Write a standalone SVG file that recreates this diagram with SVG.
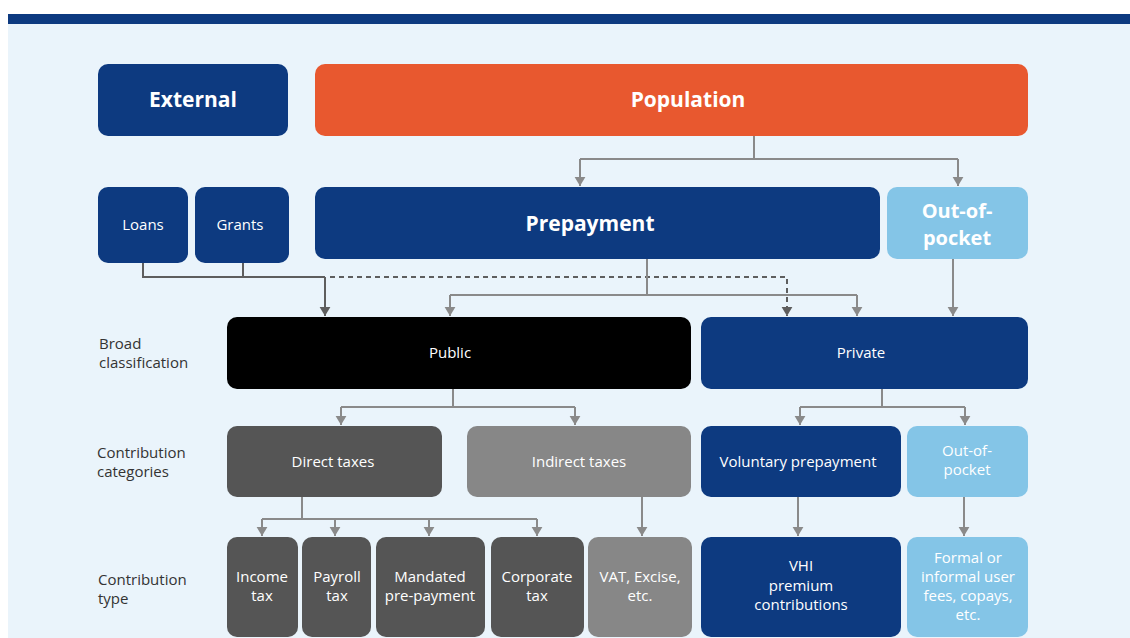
<svg xmlns="http://www.w3.org/2000/svg" width="1130" height="638" viewBox="0 0 1130 638">
<defs>
<style>
.t{font-family:"Open Sans","Noto Sans","Liberation Sans",sans-serif;fill:#fff;text-anchor:middle}
.b{font-weight:700;font-size:21px}
.r{font-size:15px}
.lbl{font-family:"Open Sans","Noto Sans","Liberation Sans",sans-serif;font-size:15px;fill:#333}
.c{fill:none;stroke:#8a8a8a;stroke-width:2}
.cd{fill:none;stroke:#5e5e5e;stroke-width:2}
.dash{stroke-dasharray:5 4}
.navy{fill:#0d3a80}
.sky{fill:#84c5e7}
.dg{fill:#555555}
.lg{fill:#878787}
</style>
<marker id="a" viewBox="0 0 10 12" refX="10" refY="6" markerWidth="9" markerHeight="12" markerUnits="userSpaceOnUse" orient="auto"><path d="M0,0 L10,6 L0,12 z" fill="#8a8a8a"/></marker>
<marker id="ad" viewBox="0 0 10 12" refX="10" refY="6" markerWidth="9" markerHeight="12" markerUnits="userSpaceOnUse" orient="auto"><path d="M0,0 L10,6 L0,12 z" fill="#5e5e5e"/></marker>
</defs>
<rect x="0" y="0" width="1130" height="638" fill="#ffffff"/>
<rect x="8" y="24" width="1122" height="614" fill="#eaf4fb"/>
<rect x="8" y="14" width="1122" height="10" fill="#0d3a80"/>

<g id="connectors">
<path class="c" d="M754,136 V159 M580,159 H958" />
<path class="c" d="M580,159 V186" marker-end="url(#a)"/>
<path class="c" d="M958,159 V186" marker-end="url(#a)"/>
<path class="cd" d="M143,263 V277 H325 M243,263 V277"/>
<path class="cd" d="M325,277 V316" marker-end="url(#ad)"/>
<path class="cd dash" d="M330,277 H787 V316" marker-end="url(#ad)"/>
<path class="c" d="M647,259 V295 M450,295 H857"/>
<path class="c" d="M450,295 V316" marker-end="url(#a)"/>
<path class="c" d="M857,295 V316" marker-end="url(#a)"/>
<path class="c" d="M953,259 V316" marker-end="url(#a)"/>
<path class="c" d="M453,389 V407 M341,407 H575"/>
<path class="c" d="M341,407 V425" marker-end="url(#a)"/>
<path class="c" d="M575,407 V425" marker-end="url(#a)"/>
<path class="c" d="M882,389 V407 M800,407 H965"/>
<path class="c" d="M800,407 V425" marker-end="url(#a)"/>
<path class="c" d="M965,407 V425" marker-end="url(#a)"/>
<path class="c" d="M302,497 V519 M262,519 H537"/>
<path class="c" d="M262,519 V536" marker-end="url(#a)"/>
<path class="c" d="M335,519 V536" marker-end="url(#a)"/>
<path class="c" d="M429,519 V536" marker-end="url(#a)"/>
<path class="c" d="M537,519 V536" marker-end="url(#a)"/>
<path class="c" d="M642,497 V536" marker-end="url(#a)"/>
<path class="c" d="M798,497 V536" marker-end="url(#a)"/>
<path class="c" d="M964,497 V536" marker-end="url(#a)"/>
</g>

<g id="labels">
<text class="lbl" x="99" y="349">Broad</text>
<text class="lbl" x="99" y="368">classification</text>
<text class="lbl" x="97" y="458">Contribution</text>
<text class="lbl" x="97" y="477">categories</text>
<text class="lbl" x="98" y="585">Contribution</text>
<text class="lbl" x="98" y="604">type</text>
</g>

<g id="external"><rect class="navy" x="98" y="64" width="190" height="72" rx="10"/><text class="t b" x="193" y="107">External</text></g>
<g id="population"><rect x="315" y="64" width="713" height="72" rx="10" fill="#e8582f"/><text class="t b" x="688" y="107">Population</text></g>
<g id="loans"><rect class="navy" x="98" y="187" width="90" height="76" rx="10"/><text class="t r" x="143" y="230">Loans</text></g>
<g id="grants"><rect class="navy" x="195" y="187" width="94" height="76" rx="10"/><text class="t r" x="240" y="230">Grants</text></g>
<g id="prepayment"><rect class="navy" x="315" y="187" width="565" height="72" rx="10"/><text class="t b" x="590" y="231">Prepayment</text></g>
<g id="oop"><rect class="sky" x="887" y="187" width="141" height="72" rx="10"/><text class="t b" x="957" y="218" style="font-size:20px">Out-of-</text><text class="t b" x="957" y="245" style="font-size:20px">pocket</text></g>

<g id="public"><rect x="227" y="317" width="464" height="72" rx="10" fill="#000"/><text class="t r" x="450" y="358">Public</text></g>
<g id="private"><rect class="navy" x="701" y="317" width="327" height="72" rx="10"/><text class="t r" x="861" y="358">Private</text></g>

<g id="direct"><rect class="dg" x="227" y="426" width="215" height="71" rx="10"/><text class="t r" x="333" y="467" fill="#e6e6e6">Direct taxes</text></g>
<g id="indirect"><rect class="lg" x="467" y="426" width="224" height="71" rx="10"/><text class="t r" x="579" y="467">Indirect taxes</text></g>
<g id="voluntary"><rect class="navy" x="701" y="426" width="200" height="71" rx="10"/><text class="t r" x="798" y="467">Voluntary prepayment</text></g>
<g id="oop2"><rect class="sky" x="907" y="426" width="121" height="71" rx="10"/><text class="t r" x="967" y="456">Out-of-</text><text class="t r" x="967" y="475">pocket</text></g>

<g id="income"><rect class="dg" x="227" y="537" width="71" height="100" rx="10"/><text class="t r" x="262" y="582">Income</text><text class="t r" x="262" y="601">tax</text></g>
<g id="payroll"><rect class="dg" x="302" y="537" width="69" height="100" rx="10"/><text class="t r" x="337" y="582">Payroll</text><text class="t r" x="337" y="601">tax</text></g>
<g id="mandated"><rect class="dg" x="376" y="537" width="109" height="100" rx="10"/><text class="t r" x="430" y="582">Mandated</text><text class="t r" x="430" y="601">pre-payment</text></g>
<g id="corporate"><rect class="dg" x="491" y="537" width="93" height="100" rx="10"/><text class="t r" x="537" y="582">Corporate</text><text class="t r" x="537" y="601">tax</text></g>
<g id="vat"><rect class="lg" x="588" y="537" width="104" height="100" rx="10"/><text class="t r" x="640" y="582">VAT, Excise,</text><text class="t r" x="640" y="601">etc.</text></g>
<g id="vhi"><rect class="navy" x="701" y="537" width="200" height="100" rx="10"/><text class="t r" x="801" y="571">VHI</text><text class="t r" x="801" y="591">premium</text><text class="t r" x="801" y="610">contributions</text></g>
<g id="formal"><rect class="sky" x="907" y="537" width="121" height="100" rx="10"/><text class="t r" x="968" y="563">Formal or</text><text class="t r" x="968" y="582">informal user</text><text class="t r" x="968" y="601">fees, copays,</text><text class="t r" x="968" y="620">etc.</text></g>
</svg>
